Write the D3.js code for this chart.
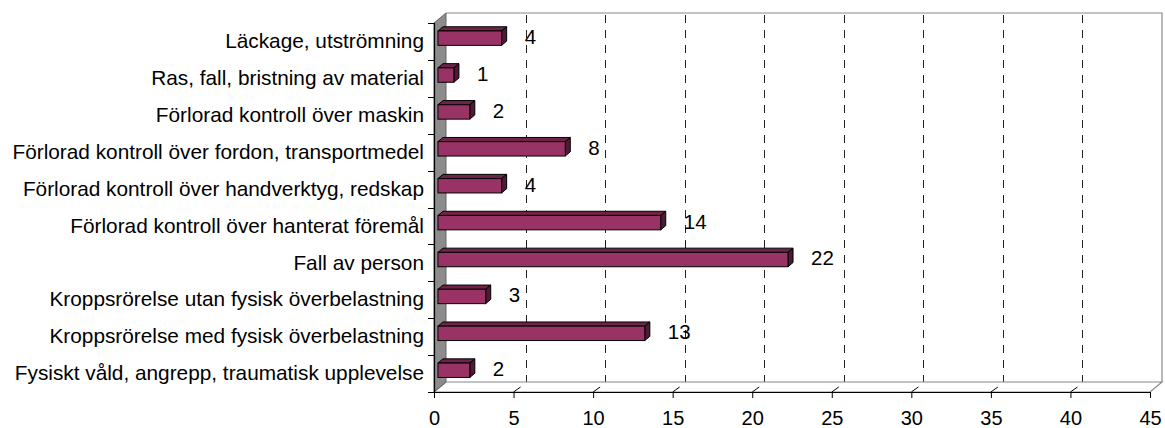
<!DOCTYPE html>
<html>
<head>
<meta charset="utf-8">
<script src="https://cdn.jsdelivr.net/npm/d3@7"></script>
<style>
  html, body { margin: 0; padding: 0; background: #fff; }
  svg { display: block; }
  text { font-family: Arial, "Liberation Sans", sans-serif; fill: #000; }
</style>
</head>
<body>
<svg id="chart" width="1165" height="428"></svg>
<script>
const categories = [
  "Läckage, utströmning",
  "Ras, fall, bristning av material",
  "Förlorad kontroll över maskin",
  "Förlorad kontroll över fordon, transportmedel",
  "Förlorad kontroll över handverktyg, redskap",
  "Förlorad kontroll över hanterat föremål",
  "Fall av person",
  "Kroppsrörelse utan fysisk överbelastning",
  "Kroppsrörelse med fysisk överbelastning",
  "Fysiskt våld, angrepp, traumatisk upplevelse"
];
const values = [4, 1, 2, 8, 4, 14, 22, 3, 13, 2];
const xTicks = [0, 5, 10, 15, 20, 25, 30, 35, 40, 45];

(function () {
const svg = d3.select("#chart");
const pL = 434, pR = 1150, pT = 23, pB = 392;
const DX = 12, DY = -10;          // depth offset of back wall
const d1 = 0.33, d2 = 0.75;       // bar depth fractions

const x = d3.scaleLinear().domain([0, 45]).range([pL, pR]);
const y = d3.scaleBand().domain(categories).range([pT, pB]);
const bw = y.bandwidth();
const barH = bw * 0.39;

// back wall
svg.append("polygon")
  .attr("points", [[pL + DX, pT + DY], [pR + DX, pT + DY], [pR + DX, pB + DY], [pL + DX, pB + DY]].join(" "))
  .attr("fill", "#fff").attr("stroke", "none");
svg.append("polyline")
  .attr("points", [[pL + DX, pT + DY], [pR + DX, pT + DY], [pR + DX, pB + DY]].join(" "))
  .attr("fill", "none").attr("stroke", "#888").attr("stroke-width", 1.2);

// gridlines on back wall
svg.append("g").selectAll("line")
  .data(xTicks.filter(v => v > 0 && v < 45))
  .join("line")
  .attr("x1", d => Math.round(x(d) + DX) + 0.5)
  .attr("x2", d => Math.round(x(d) + DX) + 0.5)
  .attr("y1", pT + DY + 2)
  .attr("y2", pB + DY)
  .attr("stroke", "#222").attr("stroke-width", 1)
  .attr("stroke-dasharray", "8,7");

// floor
svg.append("polygon")
  .attr("points", [[pL, pB], [pL + DX, pB + DY], [pR + DX, pB + DY], [pR, pB]].join(" "))
  .attr("fill", "#fff").attr("stroke", "#888").attr("stroke-width", 1.2);

// left wall
svg.append("polygon")
  .attr("points", [[pL, pT], [pL + DX, pT + DY], [pL + DX, pB + DY], [pL, pB]].join(" "))
  .attr("fill", "#8c8c8c").attr("stroke", "#666").attr("stroke-width", 1);

// bars
const bars = svg.append("g").selectAll("g")
  .data(categories.map((c, i) => ({ c, v: values[i] })))
  .join("g");

const fx0 = d1 * DX, fy0 = d1 * DY;
const ex = (d2 - d1) * DX, ey = (d2 - d1) * DY;

bars.each(function (d) {
  const g = d3.select(this);
  const x0 = x(0) + fx0, x1 = x(d.v) + fx0;
  const yc = y(d.c) + bw / 2 + fy0;
  const y0 = yc - barH / 2, y1 = yc + barH / 2;
  g.append("polygon")
    .attr("points", [[x0, y0], [x0 + ex, y0 + ey], [x1 + ex, y0 + ey], [x1, y0]].join(" "))
    .attr("fill", "#6e2448").attr("stroke", "#000").attr("stroke-width", 1).attr("stroke-linejoin", "round");
  g.append("polygon")
    .attr("points", [[x1, y0], [x1 + ex, y0 + ey], [x1 + ex, y1 + ey], [x1, y1]].join(" "))
    .attr("fill", "#4f1a34").attr("stroke", "#000").attr("stroke-width", 1).attr("stroke-linejoin", "round");
  g.append("rect")
    .attr("x", x0).attr("y", y0)
    .attr("width", x1 - x0).attr("height", barH)
    .attr("fill", "#993366").attr("stroke", "#000").attr("stroke-width", 1);
  g.append("text")
    .attr("x", x1 + ex + 18)
    .attr("y", yc - 1.5)
    .attr("dy", "0.36em")
    .attr("font-size", 20.5)
    .text(d.v);
});

// category axis (front left edge)
svg.append("line")
  .attr("x1", pL + 0.5).attr("x2", pL + 0.5)
  .attr("y1", pT).attr("y2", pB)
  .attr("stroke", "#000").attr("stroke-width", 1.2);
const bounds = categories.map(c => y(c)).concat([pB]);
svg.append("g").selectAll("line")
  .data(bounds)
  .join("line")
  .attr("x1", pL - 6).attr("x2", pL)
  .attr("y1", d => Math.round(d) + 0.5).attr("y2", d => Math.round(d) + 0.5)
  .attr("stroke", "#000").attr("stroke-width", 1);

const yAxis = d3.axisLeft(y).tickSize(0).tickPadding(10);
const gy = svg.append("g").attr("transform", `translate(${pL},0)`).call(yAxis);
gy.select(".domain").remove();
gy.selectAll("text")
  .attr("font-family", "Arial, 'Liberation Sans', sans-serif")
  .attr("font-size", 20.8)
  .attr("fill", "#000");

// value axis
const xAxis = d3.axisBottom(x).tickValues(xTicks).tickSize(6).tickPadding(13);
const gx = svg.append("g").attr("transform", `translate(0,${pB})`).call(xAxis);
gx.select(".domain").attr("stroke", "#000").attr("stroke-width", 1.2).attr("d", `M${pL},0.5H${pR}`);
gx.selectAll(".tick line").attr("stroke", "#000");
gx.selectAll("text")
  .attr("font-family", "Arial, 'Liberation Sans', sans-serif")
  .attr("font-size", 20)
  .attr("fill", "#000");

// small depth tick marks on floor
svg.append("g").selectAll("line")
  .data(xTicks.filter(v => v > 0 && v < 45))
  .join("line")
  .attr("x1", d => x(d)).attr("y1", pB)
  .attr("x2", d => x(d) + 7).attr("y2", pB - 5)
  .attr("stroke", "#000").attr("stroke-width", 1);
})();
</script>
</body>
</html>
